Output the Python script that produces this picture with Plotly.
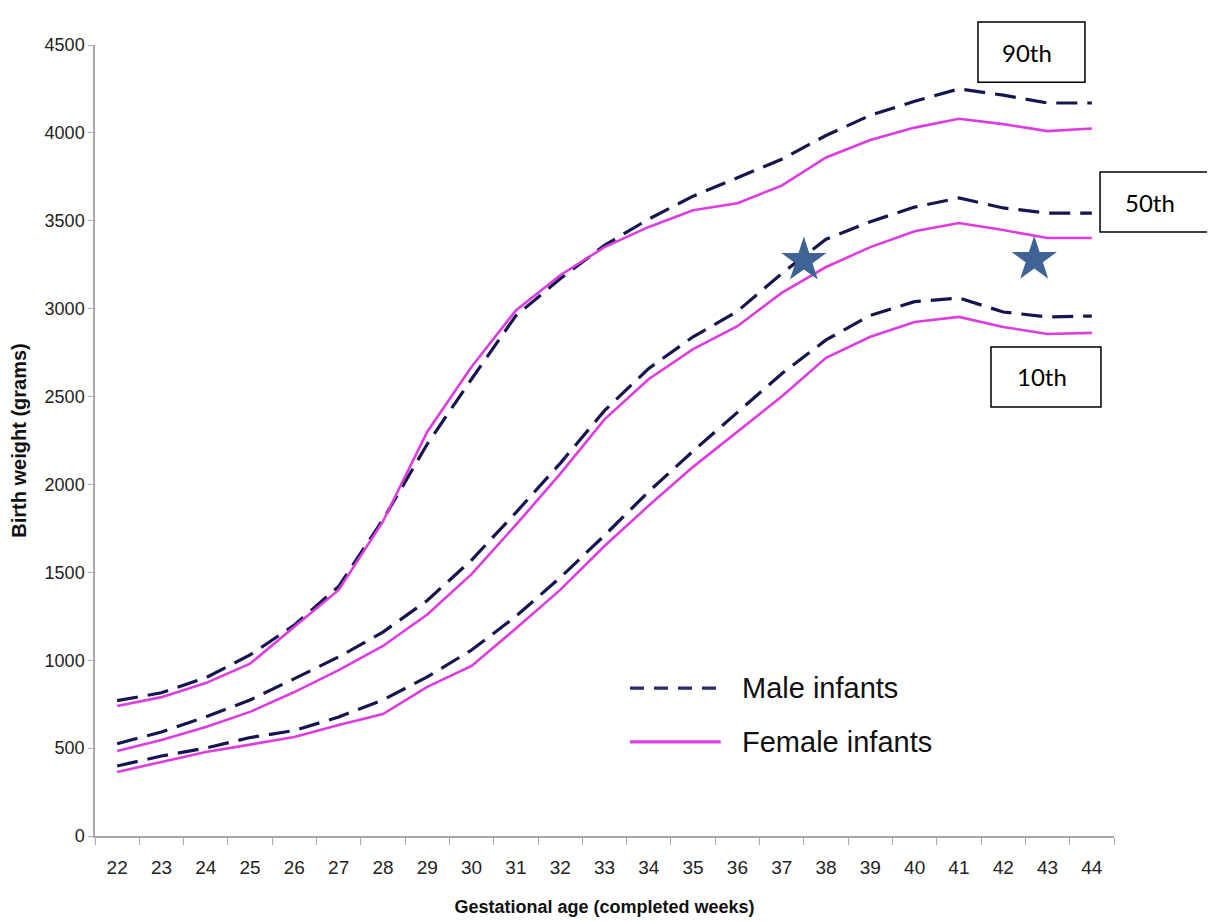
import plotly.graph_objects as go

weeks = list(range(22, 45))
week_labels = [str(w) for w in weeks]

male_90 = [770, 815, 900, 1030, 1200, 1420, 1800, 2230, 2600, 2960, 3170, 3360, 3510,
           3640, 3745, 3850, 3985, 4100, 4180, 4250, 4215, 4170, 4170]
female_90 = [740, 790, 870, 980, 1190, 1400, 1790, 2300, 2670, 2990, 3190, 3350, 3465,
             3560, 3600, 3700, 3860, 3960, 4030, 4080, 4050, 4010, 4025]
male_50 = [525, 592, 677, 774, 895, 1019, 1160, 1340, 1570, 1840, 2120, 2420, 2660,
           2840, 2985, 3200, 3395, 3495, 3578, 3630, 3573, 3544, 3544]
female_50 = [484, 546, 620, 706, 819, 944, 1081, 1260, 1490, 1770, 2060, 2370, 2600,
             2770, 2900, 3090, 3237, 3350, 3440, 3487, 3447, 3402, 3402]
male_10 = [398, 455, 500, 560, 600, 677, 774, 905, 1058, 1250, 1470, 1710, 1960,
           2190, 2410, 2630, 2822, 2962, 3040, 3061, 2981, 2953, 2958]
female_10 = [364, 421, 478, 520, 563, 631, 694, 848, 967, 1180, 1400, 1650, 1880,
             2100, 2300, 2500, 2720, 2840, 2924, 2953, 2896, 2856, 2862]

star_x = [37.5, 42.7]
star_y = [3275, 3280]

percentile_labels = ["90th", "50th", "10th"]

MALE_COLOR = "#15154f"
FEMALE_COLOR = "#dc3ce0"
AXIS_COLOR = "#a8a8a8"
FONT = "Liberation Sans, Arial, sans-serif"

fig = go.Figure()

male_series = [male_90, male_50, male_10]
female_series = [female_90, female_50, female_10]

for lab, ys in zip(percentile_labels, male_series):
    fig.add_trace(go.Scatter(
        x=weeks, y=ys, mode="lines", name="Male infants " + lab,
        line=dict(color=MALE_COLOR, width=3.2, dash="21px,10px"),
        showlegend=False, hoverinfo="x+y+name"))

for lab, ys in zip(percentile_labels, female_series):
    fig.add_trace(go.Scatter(
        x=weeks, y=ys, mode="lines", name="Female infants " + lab,
        line=dict(color=FEMALE_COLOR, width=2.6),
        showlegend=False, hoverinfo="x+y+name"))

fig.add_trace(go.Scatter(
    x=star_x, y=star_y, mode="markers", name="marker",
    marker=dict(symbol="star", size=34, color="#3e6394", line=dict(width=0)),
    showlegend=False, hoverinfo="skip"))

shapes = []
annotations = []

# custom legend (line samples + labels)
legend_items = [("Male infants", dict(color="#2a2a70", width=3.2, dash="14px,10px"), 0.187),
                ("Female infants", dict(color=FEMALE_COLOR, width=3.2), 0.119)]
for text, ln, yy in legend_items:
    shapes.append(dict(type="line", xref="paper", yref="paper",
                       x0=0.525, x1=0.614, y0=yy, y1=yy, line=ln))
    annotations.append(dict(xref="paper", yref="paper", x=0.633, y=yy, text=text,
                            showarrow=False, xanchor="left", yanchor="middle",
                            font=dict(family=FONT, size=29, color="#111111")))

# percentile boxes
boxes = [(0.8665, 0.9715, 0.953, 1.029),
         (0.9863, 1.0922, 0.7636, 0.8394),
         (0.8793, 0.9872, 0.5424, 0.6182)]
for lab, (x0, x1, y0, y1) in zip(percentile_labels, boxes):
    shapes.append(dict(type="rect", xref="paper", yref="paper",
                       x0=x0, x1=x1, y0=y0, y1=y1,
                       line=dict(color="#000000", width=1.5), fillcolor="white", layer="above"))
    annotations.append(dict(xref="paper", yref="paper", x=(x0 + x1) / 2 - 0.004,
                            y=(y0 + y1) / 2, text=lab, showarrow=False,
                            xanchor="center", yanchor="middle",
                            font=dict(family="Lato, Open Sans, sans-serif", size=24, color="#000000")))

fig.update_layout(
    width=1207, height=913,
    margin=dict(l=87, r=101, t=37, b=85, autoexpand=False),
    paper_bgcolor="white", plot_bgcolor="white",
    font=dict(family=FONT, color="#111111"),
    shapes=shapes, annotations=annotations,
    showlegend=False,
    xaxis=dict(
        range=[21.5, 44.5], tickvals=weeks, ticktext=week_labels,
        ticks="", showgrid=False, zeroline=False, automargin=False,
        showline=True, linecolor=AXIS_COLOR, linewidth=1.5,
        tickfont=dict(family=FONT, size=19, color="#222222"),
        ticklabelstandoff=13,
        minor=dict(tick0=21.5, dtick=1, ticks="outside", ticklen=7,
                   tickcolor=AXIS_COLOR, tickwidth=1.2, showgrid=False),
        title=dict(text="<b>Gestational age (completed weeks)</b>",
                   font=dict(family=FONT, size=18, color="#111111"), standoff=24),
    ),
    yaxis=dict(
        range=[0, 4500], tickvals=list(range(0, 4501, 500)),
        ticks="outside", ticklen=5, tickcolor=AXIS_COLOR, tickwidth=1.2,
        showgrid=False, zeroline=False, automargin=False,
        showline=True, linecolor=AXIS_COLOR, linewidth=1.5,
        tickfont=dict(family=FONT, size=18, color="#222222"),
        title=dict(text="<b>Birth weight (grams)</b>",
                   font=dict(family=FONT, size=20, color="#111111"), standoff=14),
    ),
)

fig.write_html("out.html")
